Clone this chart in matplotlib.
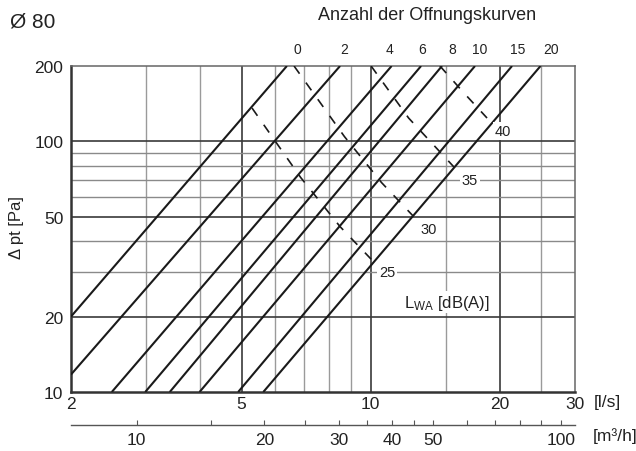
import matplotlib
matplotlib.use('Agg')
import matplotlib.pyplot as plt
from matplotlib.ticker import FixedLocator, FixedFormatter, NullLocator, NullFormatter

plt.rcParams['font.family'] = ['Liberation Sans', 'DejaVu Sans']
plt.rcParams['lines.scale_dashes'] = False
plt.rcParams['mathtext.default'] = 'regular'

# ---------------- data ----------------
x_lim = (2, 30)          # l/s
y_lim = (10, 200)        # Pa
m3h_lim = (7.0, 108)     # m3/h (secondary scale as drawn)

x_ticks = [2, 5, 10, 20, 30]
y_ticks = [10, 20, 50, 100, 200]
x_major_grid = [5, 10, 20]
x_minor_grid = [3, 4, 6, 7, 8, 9, 15, 25]
y_major_grid = [20, 50, 100]
y_minor_grid = [30, 40, 60, 70, 80, 90]
m3h_major = [10, 20, 30, 40, 50, 100]
m3h_minor = [15, 25, 35, 45, 60, 70, 80, 90]

# opening curves (Anzahl der Offnungskurven)
curve_labels = ['0', '2', '4', '6', '8', '10', '15', '20']
curve_start_q = [2.0, 2.0, 2.49, 2.98, 3.40, 3.99, 4.91, 5.62]
curve_start_p = [20.0, 11.74, 10, 10, 10, 10, 10, 10]
curve_end_q = [6.38, 8.49, 11.2, 13.12, 14.68, 17.53, 21.39, 24.93]
curve_end_p = [200, 200, 200, 200, 200, 200, 200, 200]

# sound power iso-lines L_WA [dB(A)]
lwa_labels = ['25', '30', '35', '40']
lwa_q = [[5.29, 6.87, 8.49, 10.03],
         [6.63, 8.69, 10.61, 12.57],
         [10.03, 12.27, 15.66],
         [14.52, 16.48, 18.70]]
lwa_p = [[135.9, 71.8, 45.7, 33.9],
         [200, 104.6, 68.5, 50.4],
         [200, 124.0, 79.0],
         [200, 156.8, 124.0]]

# ---------------- layout ----------------
W, H = 636, 452
fig = plt.figure(figsize=(W / 100, H / 100), dpi=100)
L, R, T, B = 71, 575, 67, 393
ax = fig.add_axes([L / W, 1 - B / H, (R - L) / W, (B - T) / H])
ax.set_xscale('log')
ax.set_yscale('log')
ax.set_xlim(*x_lim)
ax.set_ylim(*y_lim)

major_c, minor_c = '#3a3a3a', '#9a9a9a'
for v in x_major_grid:
    ax.axvline(v, color=major_c, lw=1.2, zorder=1)
for v in x_minor_grid:
    ax.axvline(v, color=minor_c, lw=1.0, zorder=1)
for v in y_major_grid:
    ax.axhline(v, color=major_c, lw=1.2, zorder=1)
for v in y_minor_grid:
    ax.axhline(v, color='#8a8a8a', lw=1.0, zorder=1)

for side in ['left', 'bottom']:
    ax.spines[side].set_color('#333333')
    ax.spines[side].set_linewidth(1.8)
for side in ['top', 'right']:
    ax.spines[side].set_color('#666666')
    ax.spines[side].set_linewidth(1.1)

ax.xaxis.set_major_locator(FixedLocator(x_ticks))
ax.xaxis.set_major_formatter(FixedFormatter([str(v) for v in x_ticks]))
ax.xaxis.set_minor_locator(NullLocator())
ax.yaxis.set_major_locator(FixedLocator(y_ticks))
ax.yaxis.set_major_formatter(FixedFormatter([str(v) for v in y_ticks]))
ax.yaxis.set_minor_locator(NullLocator())
ax.tick_params(axis='x', length=0, labelsize=12.5, pad=2.7, colors='#222222')
ax.tick_params(axis='y', length=0, labelsize=12.5, pad=5.5, colors='#222222')

# opening curves
label_dx = [10, 4, -2, 1, 10, 5, 6, 11]
for i, lab in enumerate(curve_labels):
    ax.plot([curve_start_q[i], curve_end_q[i]], [curve_start_p[i], curve_end_p[i]],
            color='#1a1a1a', lw=1.5, zorder=3, solid_capstyle='butt')
    ax.annotate(lab, xy=(curve_end_q[i], curve_end_p[i]), xytext=(label_dx[i], 17),
                textcoords='offset pixels', ha='center', va='center',
                fontsize=10, color='#222222', annotation_clip=False)

# L_WA dashed lines
for i, lab in enumerate(lwa_labels):
    ax.plot(lwa_q[i], lwa_p[i], color='#1a1a1a', lw=1.2, dashes=(6.8, 7.9), zorder=3)
    ax.annotate(lab, xy=(lwa_q[i][-1], lwa_p[i][-1]), xytext=(16, -13),
                textcoords='offset pixels', ha='center', va='center',
                fontsize=10.5, color='#222222', zorder=5,
                bbox=dict(boxstyle='square,pad=0.12', fc='white', ec='none'))

ax.text(0.746, 0.276, r'L$_{WA}$ [dB(A)]', transform=ax.transAxes,
        ha='center', va='center', fontsize=12, color='#222222', zorder=5,
        bbox=dict(boxstyle='square,pad=0.1', fc='white', ec='none'))

# secondary axis in m3/h
ax2 = fig.add_axes([L / W, 1 - 425.7 / H, (R - L) / W, 0.0005])
ax2.set_xscale('log')
ax2.set_xlim(*m3h_lim)
ax2.patch.set_visible(False)
for side in ['left', 'right', 'top']:
    ax2.spines[side].set_visible(False)
ax2.spines['bottom'].set_color('#555555')
ax2.spines['bottom'].set_linewidth(1.0)
ax2.set_yticks([])
ax2.xaxis.set_major_locator(FixedLocator(m3h_major))
ax2.xaxis.set_major_formatter(FixedFormatter([str(v) for v in m3h_major]))
ax2.xaxis.set_minor_locator(FixedLocator(m3h_minor))
ax2.xaxis.set_minor_formatter(NullFormatter())
ax2.tick_params(axis='x', which='both', direction='in', length=3.4, width=0.8,
                color='#555555', labelsize=12.5, pad=5, labelcolor='#222222')

# texts
fig.text(10 / W, 1 - 22 / H, 'Ø 80', ha='left', va='center', fontsize=15, color='#222222')
fig.text(427 / W, 1 - 15 / H, 'Anzahl der Offnungskurven', ha='center', va='center',
         fontsize=13, color='#222222')
fig.text(16 / W, 1 - 228 / H, 'Δ pt [Pa]', rotation=90, ha='center', va='center',
         fontsize=12, color='#222222')
fig.text(607 / W, 1 - 403 / H, '[l/s]', ha='center', va='center', fontsize=12.5, color='#222222')
fig.text(615 / W, 1 - 436 / H, '[m³/h]', ha='center', va='center', fontsize=12.5, color='#222222')

fig.savefig('out.png', dpi=100)
